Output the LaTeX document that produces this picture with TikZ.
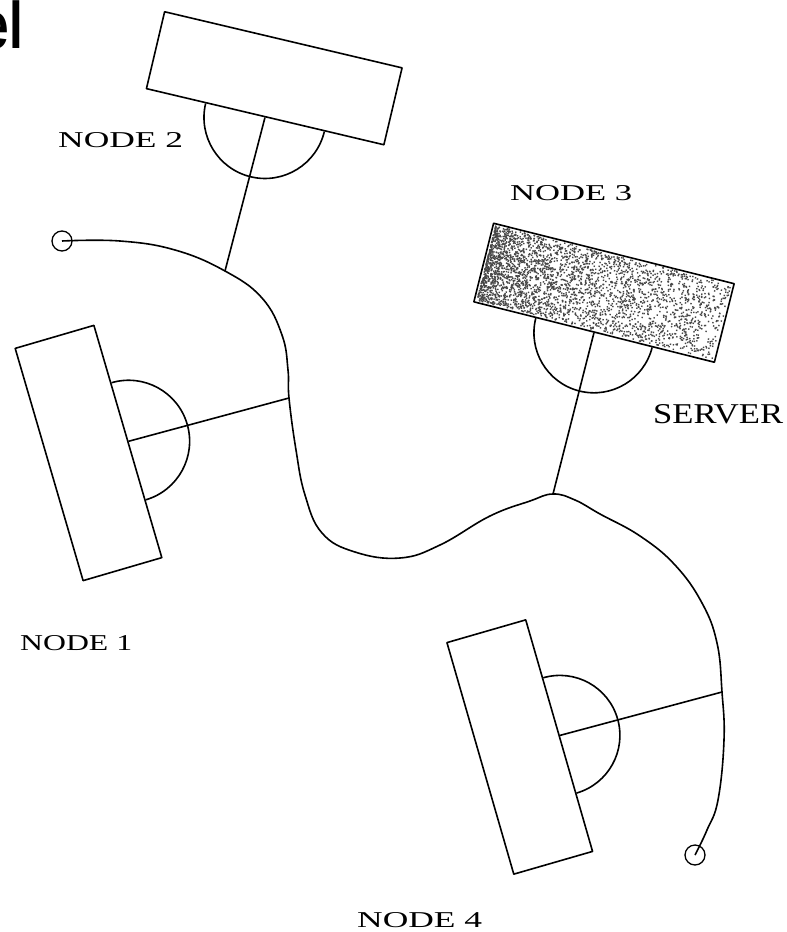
\documentclass[tikz,border=0pt]{standalone}
\usepackage{fontspec}
\setmainfont{Liberation Serif}
\newfontfamily\headfont{Liberation Sans}
\usepackage{graphicx}
\begin{document}
\begin{tikzpicture}[x=1pt,y=-1pt,line join=round,
  stroke/.style={line width=1.6pt},
  nodebox/.style={draw,rectangle,inner sep=0pt,line width=1.6pt},
  serverbox/.style={draw,rectangle,inner sep=0pt,line width=1.6pt,fill=white},
  endpt/.style={circle,draw,minimum size=20pt,inner sep=0pt,line width=1.3pt},
  lbl/.style={inner sep=0pt,anchor=base west}]
\useasboundingbox (0,0) rectangle (787,932);
\clip (0,0) rectangle (787,932);

% heading fragment
\node[inner sep=0pt,anchor=base east] (hd) at (23,48) {\scalebox{0.75}[1]{\headfont\bfseries\fontsize{66}{66}\selectfont el}};

% terminals
\node[nodebox,minimum width=244pt,minimum height=79pt,rotate=-13.3] (n2) at (274.25,78.25) {};
\node[serverbox,minimum width=248pt,minimum height=81pt,rotate=-14.1] (n3) at (604,292.75) {};
\node[nodebox,minimum width=82pt,minimum height=242pt,rotate=16.3] (n1) at (88.5,453) {};
\node[nodebox,minimum width=82pt,minimum height=241pt,rotate=16.1] (n4) at (519.75,747) {};

% stipple of server
\begin{scope}[shift={(n3.center)},rotate=-14.1]
\pgfmathsetseed{7}
\foreach \i in {1,...,3200}{
  \pgfmathsetmacro\px{-122+243*rnd^1.6}
  \pgfmathsetmacro\py{-39+77*rnd}
  \fill[black!72] (\px pt,\py pt) rectangle ++(1.4pt,1.4pt);
}
\end{scope}

% half circles
\draw[stroke] (n2.south) ++(-13.3:61pt) arc[start angle=-13.3,end angle=-193.3,radius=61pt];
\draw[stroke] (n3.south) ++(-14.1:60pt) arc[start angle=-14.1,end angle=-194.1,radius=60pt];
\draw[stroke] (n1.east) ++(106.3:61pt) arc[start angle=106.3,end angle=-73.7,radius=61pt];
\draw[stroke] (n4.east) ++(106.1:60pt) arc[start angle=106.1,end angle=-73.9,radius=60pt];

% bus ends
\node[endpt] (e1) at (62,241) {};
\node[endpt] (e2) at (695,855) {};

% taps on bus
\coordinate (b2) at (225,271);
\coordinate (b1) at (289,398);
\coordinate (b3) at (553,494);
\coordinate (b4) at (722,692);

% bus
\draw[stroke] plot[smooth,tension=0.7] coordinates {(e1.center) (120,241) (175,250) (b2) (262,298) (282,335) (288,370) (b1) (296,450) (305,495) (322,533) (355,552) (400,558) (440,545) (490,516) (530,501) (b3) (575,500) (600,514) (640,536) (675,565) (702,603) (717,643) (b4) (724,740) (718,800) (707,830) (e2.center)};

% drop lines
\draw[stroke] (n2.south) -- (b2);
\draw[stroke] (n3.south) -- (b3);
\draw[stroke] (n1.east) -- (b1);
\draw[stroke] (n4.east) -- (b4);

% labels
\node[lbl] (t2) at (58,147) {\resizebox{125pt}{15pt}{NODE 2}};
\node[lbl] (t3) at (510,200) {\resizebox{122pt}{15pt}{NODE 3}};
\node[lbl] (ts) at (653,423) {\resizebox{130pt}{19pt}{SERVER}};
\node[lbl] (t1) at (20,650) {\resizebox{112pt}{15pt}{NODE 1}};
\node[lbl] (t4) at (357,927) {\resizebox{125pt}{15pt}{NODE 4}};
\end{tikzpicture}
\end{document}
